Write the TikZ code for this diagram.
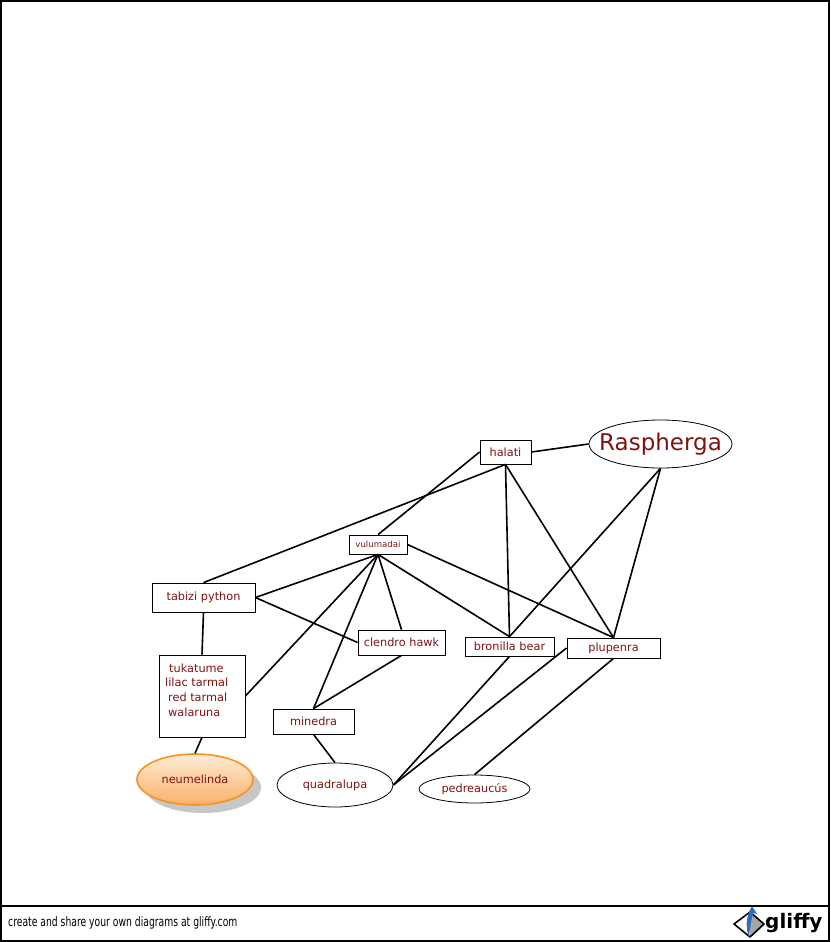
\documentclass[tikz,border=0pt]{standalone}
\usepackage{fontspec}
\setmainfont{DejaVu Sans}
\newfontfamily\footfont[FakeStretch=0.71]{DejaVu Sans}
\usetikzlibrary{shapes.geometric,calc}
\definecolor{lbl}{RGB}{128,18,18}
\definecolor{orbd}{RGB}{247,148,29}
\definecolor{ortop}{RGB}{254,236,214}
\definecolor{orbot}{RGB}{250,176,105}
\definecolor{gblue}{RGB}{40,110,190}
\tikzset{
  box/.style={draw=black, line width=0.8pt, rectangle, inner sep=0pt, font=\fontsize{11.3}{13}\selectfont, text=lbl},
  ell/.style={draw=black, line width=0.8pt, ellipse, inner sep=0pt, font=\fontsize{11.3}{13}\selectfont, text=lbl},
  link/.style={line width=1.6pt, black}
}
\begin{document}
\begin{tikzpicture}[x=1pt,y=-1pt]
\useasboundingbox (0,0) rectangle (830,942);
\fill[white] (0,0) rectangle (830,942);
% frame
\draw[line width=1.5pt] (1,1) rectangle (829,941);
\draw[line width=2pt] (1,906) -- (829,906);

% nodes
\node[box, minimum width=51pt, minimum height=24pt] (halati) at (505.5,452) {halati};
\node[ell, minimum width=143pt, minimum height=48pt, label={[text=lbl, font=\fontsize{23}{26}\selectfont, inner sep=0pt]center:Raspherga}] (rasp) at (660.5,444) {};
\node[box, minimum width=58pt, minimum height=19pt, font=\fontsize{8.6}{10}\selectfont] (vul) at (378,544.5) {vulumadai};
\node[box, minimum width=103pt, minimum height=29pt] (tab) at (203.5,597.5) {tabizi python};
\node[box, minimum width=87pt, minimum height=25pt] (clen) at (401.5,642.5) {clendro hawk};
\node[box, minimum width=89pt, minimum height=19pt] (bron) at (509.5,646.5) {bronilla bear};
\node[box, minimum width=93pt, minimum height=20pt] (plu) at (613.5,648) {plupenra};
\node[box, minimum width=86pt, minimum height=82pt] (tuka) at (202,696) {};
\node[font=\fontsize{11.3}{14.6}\selectfont, text=lbl, align=left, inner sep=0pt, anchor=north west] (tukatext) at (165,663.5) {\hspace{4pt}tukatume\\lilac tarmal\\\hspace{3pt}red tarmal\\\hspace{3pt}walaruna};
\node[box, minimum width=81pt, minimum height=25pt] (min) at (313.5,721.5) {minedra};
% neumelinda with shadow
\fill[black!22] (203,787.5) ellipse [x radius=58pt, y radius=25.5pt];
\node[ell, draw=orbd, line width=1.6pt, top color=ortop, bottom color=orbot, minimum width=116pt, minimum height=51pt] (neu) at (195,779.5) {neumelinda};
\node[ell, minimum width=116pt, minimum height=44pt] (quad) at (335,785) {quadralupa};
\node[ell, minimum width=111pt, minimum height=28pt] (ped) at (474.5,789) {pedreaucús};

% links
\draw[link] (halati.east) -- (rasp.west);
\draw[link] (halati.west) -- (vul.north);
\draw[link] (halati.south) -- (tab.north);
\draw[link] (halati.south) -- (bron.north);
\draw[link] (halati.south) -- (plu.north);
\draw[link] (rasp.south) -- (bron.north);
\draw[link] (rasp.south) -- (plu.north);
\draw[link] (vul.south) -- (tab.east);
\draw[link] (vul.south) -- (clen.north);
\draw[link] (vul.south) -- (bron.north);
\draw[link] (vul.east) -- (plu.north);
\draw[link] (vul.south) -- (min.north);
\draw[link] (vul.south) -- (tuka.east);
\draw[link] (tab.east) -- (clen.west);
\draw[link] (tab.south) -- (tuka.north);
\draw[link] (clen.south) -- (min.north);
\draw[link] (tuka.south) -- (neu.north);
\draw[link] (min.south) -- (quad.north);
\draw[link] (quad.east) -- (bron.south);
\draw[link] (quad.east) -- (plu.west);
\draw[link] (ped.north) -- (plu.south);

% footer
\node[font=\footfont\fontsize{13}{15}\selectfont, anchor=west, inner sep=0pt] (foot) at (8,923) {create and share your own diagrams at gliffy.com};
% gliffy logo
\coordinate (dl) at (734,924);
\coordinate (dt) at (750,912);
\coordinate (dr) at (764,924);
\coordinate (db) at (750,937);
\fill[black!35] (dt) -- (dr) -- (db) -- cycle;
\draw[line width=1.6pt, line join=round] (dl) -- (dt) -- (dr) -- (db) -- cycle;
\fill[gblue] (749,937) .. controls (744,924) and (748,913) .. (752,906) -- (757,914) -- (753.5,913) .. controls (751,920) and (750,928) .. (749,937) -- cycle;
\node[font=\bfseries\fontsize{20}{22}\selectfont, anchor=west, inner sep=0pt] (glf) at (765,923) {gliffy};
\end{tikzpicture}
\end{document}
